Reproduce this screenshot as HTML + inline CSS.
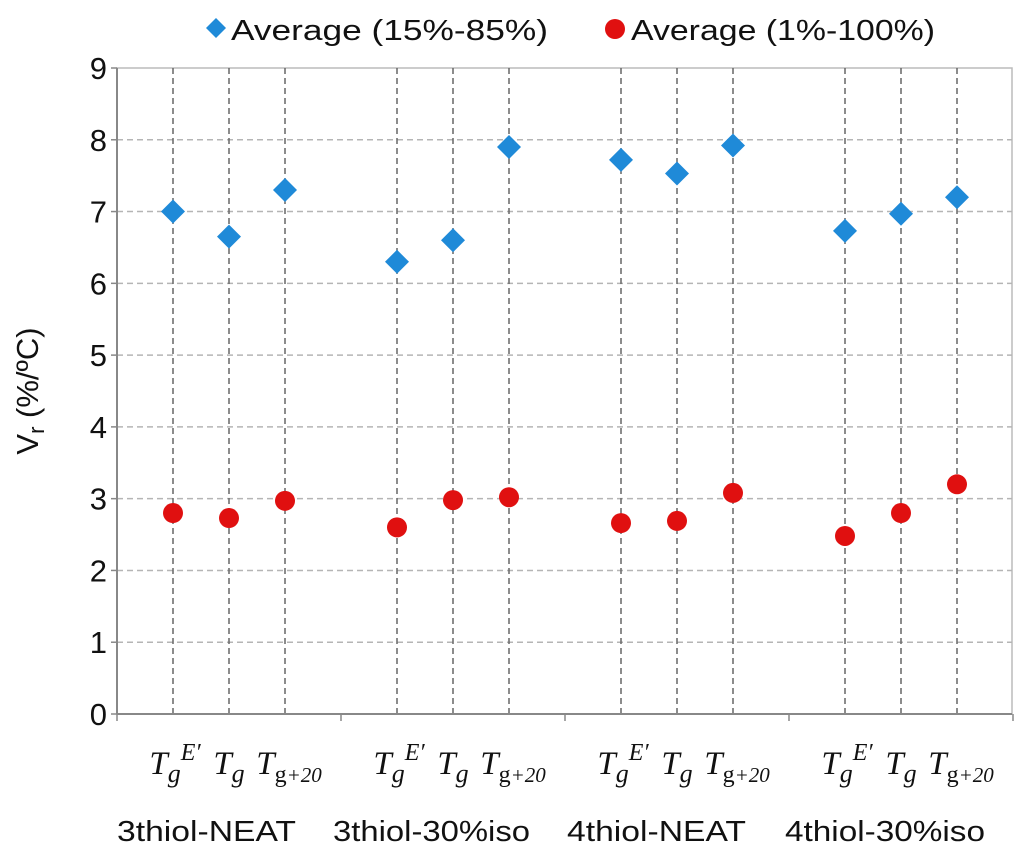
<!DOCTYPE html>
<html><head><meta charset="utf-8"><style>
body{margin:0;background:#fff;width:1024px;height:854px;overflow:hidden}
svg text{font-family:"Liberation Sans",sans-serif}
.m{font-family:"Liberation Serif",serif;font-style:italic}
</style></head><body>
<svg id="c" width="1024" height="854"></svg>
<script>
const groups=["3thiol-NEAT","3thiol-30%iso","4thiol-NEAT","4thiol-30%iso"];
const avg1585=[7.0,6.65,7.3, 6.3,6.6,7.9, 7.72,7.53,7.92, 6.73,6.97,7.2];
const avg1100=[2.8,2.73,2.97, 2.6,2.98,3.02, 2.66,2.69,3.08, 2.48,2.8,3.2];
const yTicks=[0,1,2,3,4,5,6,7,8,9];
const NS="http://www.w3.org/2000/svg";
const svg=document.getElementById('c');
const L=117,R=1012,T=68,B=714,slot=56;
const y=v=>B-(v/9)*(B-T);
const xi=i=>L+slot*(Math.floor(i/3)*4+(i%3)+1);
function mk(t,a,p){const e=document.createElementNS(NS,t);for(const k in a)e.setAttribute(k,a[k]);(p||svg).appendChild(e);return e;}
const frame=mk('rect',{x:L,y:T,width:R-L,height:B-T,fill:'none',stroke:'#bbb','stroke-width':1.5});


yTicks.forEach(v=>{
  if(v>0&&v<9){const g=mk('line',{x1:L,x2:R,y1:y(v),y2:y(v),stroke:'#b5b5b5','stroke-width':1.5,'stroke-dasharray':'6,4'});
  
  }
  const tk=mk('line',{x1:L-6,x2:L,y1:y(v),y2:y(v),stroke:'#888','stroke-width':1.5});
  
  
  const t=mk('text',{x:L-10,y:y(v)+11,'text-anchor':'end','font-size':31,fill:'#111'});t.textContent=v;
  
  
});
avg1585.forEach((v,i)=>{
  const g=mk('line',{x1:xi(i),x2:xi(i),y1:T,y2:B,stroke:'#666','stroke-width':1.5,'stroke-dasharray':'6,4'});
  
  
});
mk('line',{x1:L,x2:R,y1:B,y2:B,stroke:'#888','stroke-width':2});
mk('line',{x1:L,x2:L,y1:T,y2:B,stroke:'#888','stroke-width':2});
for(let k=0;k<=4;k++){const t=mk('line',{x1:L+k*4*slot,x2:L+k*4*slot,y1:B,y2:B+7,stroke:'#888','stroke-width':1.5});

}
avg1585.forEach((v,i)=>{const cx=xi(i),cy=y(v),s=12;
  const p=mk('polygon',{points:`${cx},${cy-s} ${cx+s},${cy} ${cx},${cy+s} ${cx-s},${cy}`,fill:'#1f8ad8'});
  
  
});
avg1100.forEach((v,i)=>{
  const c=mk('circle',{cx:xi(i),cy:y(v),r:10,fill:'#e01010'});
  
  
});
avg1585.forEach((v,i)=>{const k=i%3,cx=xi(i);
  const t=mk('text',{x:cx,y:774,'text-anchor':'middle','font-size':33,fill:'#111',class:'m'});
  if(k===0){t.setAttribute('x',cx+2);t.innerHTML='T<tspan font-size="26" dy="8">g</tspan><tspan font-size="24" dy="-22">E′</tspan>';}
  else if(k===1){t.innerHTML='T<tspan font-size="26" dy="8">g</tspan>';}
  else{t.setAttribute('x',cx+4);t.innerHTML='T<tspan font-size="24" dy="8" font-style="normal">g</tspan><tspan font-size="21" dy="0">+20</tspan>';}
  
  
});
const gStarts=[117,333,567,785], gLens=[179,197,179,200];
groups.forEach((g,j)=>{const t=mk('text',{x:gStarts[j],y:841,'font-size':29,fill:'#111',textLength:gLens[j],lengthAdjust:'spacingAndGlyphs'});t.textContent=g;
  
  });
const yt=mk('text',{transform:'translate(38,391) rotate(-90)','text-anchor':'middle','font-size':31,fill:'#111'});
yt.innerHTML='V<tspan font-size="22" dy="6">r</tspan><tspan dy="-6"> (%/ºC)</tspan>';


const lg=mk('g',{});


const d=mk('polygon',{points:'216,18 226,28 216,38 206,28',fill:'#1f8ad8'},lg);


const t1=mk('text',{x:231,y:40,'font-size':29,fill:'#111',textLength:317,lengthAdjust:'spacingAndGlyphs'},lg);t1.textContent='Average (15%-85%)';


const c2=mk('circle',{cx:615,cy:29,r:10,fill:'#e01010'},lg);


const t2=mk('text',{x:631,y:40,'font-size':29,fill:'#111',textLength:304,lengthAdjust:'spacingAndGlyphs'},lg);t2.textContent='Average (1%-100%)';


</script>
</body></html>
